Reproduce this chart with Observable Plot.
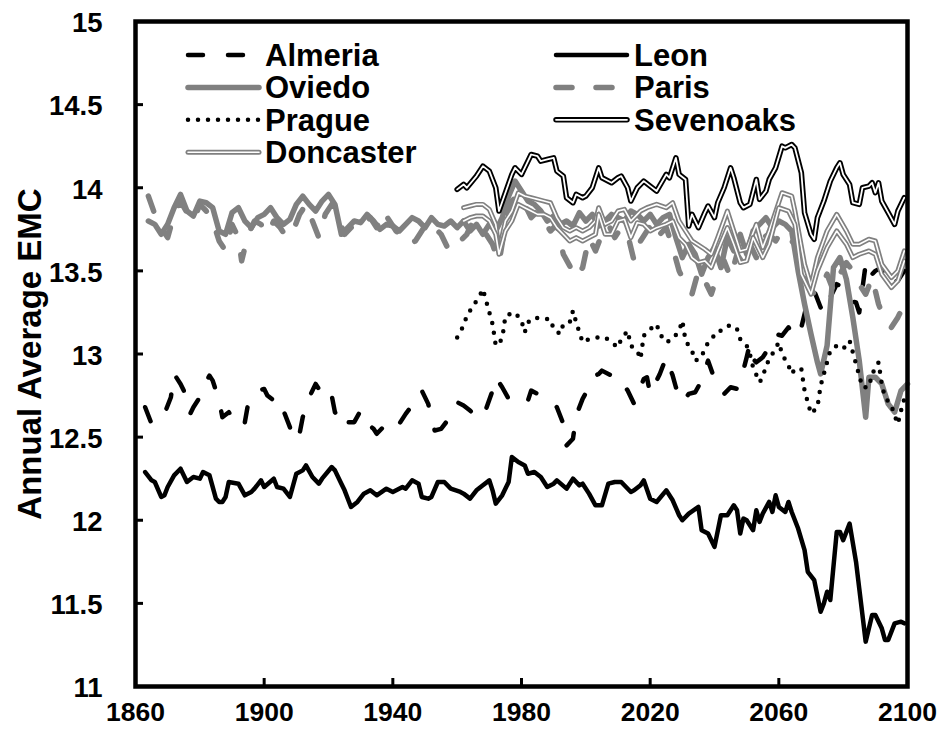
<!DOCTYPE html>
<html><head><meta charset="utf-8">
<script src="https://cdn.jsdelivr.net/npm/d3@7"></script>
<script src="https://cdn.jsdelivr.net/npm/@observablehq/plot@0.6"></script>
<style>
body{margin:0;background:#fff;}
#wrap{position:relative;width:944px;height:744px;overflow:hidden;background:#fff;}
#legend{position:absolute;left:0;top:0;pointer-events:none;}
</style></head><body><div id="wrap"></div>
<script>
// ---------- data ----------
const xTicks = [1860, 1900, 1940, 1980, 2020, 2060, 2100];
const yTicks = [11, 11.5, 12, 12.5, 13, 13.5, 14, 14.5, 15];
const yLabel = "Annual Average EMC";
const legendNames = ["Almeria", "Leon", "Oviedo", "Paris", "Prague", "Sevenoaks", "Doncaster"];

const almeriaYears = [1863,1865,1867,1869,1871,1872,1874,1875,1877,1878,1880,1881,1883,1884,1886,1887,1889,1891,1892,1894,1895,1897,1898,1900,1901,1903,1904,1906,1908,1909,1911,1912,1914,1916,1918,1919,1921,1922,1923,1924,1926,1928,1930,1932,1934,1935,1937,1939,1941,1942,1944,1946,1947,1949,1951,1953,1955,1957,1959,1960,1962,1964,1966,1967,1969,1971,1972,1974,1976,1978,1980,1982,1983,1985,1987,1989,1991,1993,1994,1996,1997,1999,2001,2002,2004,2005,2008,2010,2011,2013,2015,2016,2018,2019,2020,2021,2023,2025,2027,2028,2030,2032,2034,2036,2038,2040,2043,2045,2047,2048,2050,2051,2052,2053,2055,2057,2059,2061,2063,2065,2067,2069,2071,2073,2075,2076,2078,2080,2082,2084,2085,2087,2088,2090,2092,2093,2095,2097,2099];
const almeriaValues = [12.68,12.58,12.62,12.64,12.74,12.88,12.82,12.78,12.64,12.68,12.74,12.80,12.87,12.84,12.72,12.62,12.65,12.59,12.62,12.59,12.70,12.74,12.78,12.79,12.75,12.72,12.74,12.66,12.56,12.48,12.52,12.62,12.74,12.82,12.76,12.72,12.75,12.65,12.62,12.56,12.59,12.59,12.66,12.58,12.55,12.52,12.56,12.58,12.55,12.58,12.64,12.69,12.71,12.78,12.70,12.54,12.55,12.60,12.68,12.71,12.69,12.66,12.62,12.61,12.67,12.78,12.86,12.80,12.73,12.75,12.75,12.72,12.78,12.76,12.74,12.72,12.68,12.58,12.45,12.49,12.63,12.73,12.80,12.86,12.88,12.90,12.87,12.87,12.84,12.78,12.70,12.75,12.85,12.86,12.76,12.80,12.88,12.98,12.87,12.80,12.71,12.76,12.77,12.84,12.96,12.85,12.76,12.80,12.79,12.83,12.98,13.06,12.97,12.95,12.98,13.04,13.12,13.11,13.16,13.10,13.16,13.32,13.38,13.28,13.25,13.34,13.42,13.40,13.32,13.31,13.25,13.54,13.46,13.50,13.52,13.42,13.43,13.44,13.50];

const leonYears = [1863,1865,1866,1868,1869,1870,1872,1874,1876,1878,1880,1881,1883,1885,1886,1887,1888,1889,1892,1894,1896,1897,1899,1900,1903,1904,1906,1908,1910,1912,1913,1915,1917,1918,1921,1922,1924,1925,1927,1929,1931,1933,1935,1938,1940,1943,1944,1946,1948,1949,1951,1952,1954,1956,1958,1961,1962,1964,1966,1968,1970,1971,1972,1974,1976,1977,1979,1981,1982,1984,1986,1988,1990,1991,1994,1996,1998,1999,2001,2003,2005,2007,2009,2011,2014,2015,2017,2018,2020,2022,2025,2027,2029,2030,2032,2035,2036,2038,2040,2042,2044,2046,2047,2048,2049,2050,2052,2053,2054,2055,2057,2058,2059,2060,2062,2063,2064,2066,2068,2069,2071,2073,2074,2075,2076,2078,2079,2080,2082,2084,2085,2087,2089,2090,2092,2093,2094,2096,2098,2099];
const leonValues = [12.29,12.24,12.23,12.14,12.15,12.20,12.27,12.31,12.23,12.26,12.25,12.29,12.27,12.13,12.11,12.11,12.14,12.23,12.22,12.15,12.17,12.19,12.24,12.20,12.25,12.20,12.19,12.14,12.28,12.30,12.33,12.26,12.22,12.25,12.32,12.30,12.22,12.18,12.08,12.11,12.16,12.18,12.15,12.19,12.17,12.20,12.19,12.24,12.22,12.14,12.13,12.14,12.23,12.23,12.19,12.17,12.16,12.13,12.18,12.21,12.24,12.18,12.10,12.15,12.23,12.38,12.35,12.33,12.28,12.29,12.26,12.20,12.22,12.24,12.19,12.25,12.21,12.22,12.16,12.09,12.09,12.22,12.23,12.23,12.17,12.18,12.21,12.24,12.13,12.11,12.18,12.12,12.03,12.00,12.04,12.08,11.94,11.92,11.84,12.03,12.03,12.09,12.06,11.92,12.01,12.00,11.94,12.06,11.99,12.04,12.11,12.05,12.15,12.08,12.05,12.11,12.05,11.95,11.82,11.69,11.64,11.45,11.50,11.57,11.52,11.93,11.93,11.88,11.98,11.75,11.59,11.27,11.43,11.43,11.35,11.28,11.28,11.38,11.39,11.38];

const oviedoYears = [1864,1866,1868,1870,1872,1874,1876,1878,1880,1882,1884,1886,1888,1890,1892,1894,1896,1898,1900,1902,1904,1906,1908,1910,1912,1914,1916,1918,1920,1922,1924,1926,1928,1930,1932,1934,1936,1938,1940,1942,1944,1946,1948,1950,1952,1954,1956,1958,1960,1962,1964,1966,1968,1970,1972,1974,1976,1978,1980,1982,1984,1986,1988,1990,1992,1994,1996,1998,2000,2002,2004,2006,2008,2010,2012,2014,2016,2018,2020,2022,2024,2026,2028,2030,2032,2034,2036,2038,2040,2042,2044,2046,2048,2050,2052,2054,2056,2058,2060,2062,2064,2066,2068,2070,2072,2073,2075,2077,2079,2081,2083,2085,2087,2088,2090,2092,2094,2096,2098,2100];
const oviedoValues = [13.80,13.78,13.72,13.78,13.88,13.96,13.86,13.83,13.92,13.91,13.88,13.74,13.72,13.85,13.88,13.80,13.76,13.82,13.84,13.88,13.82,13.78,13.81,13.90,13.95,13.90,13.86,13.92,13.96,13.90,13.72,13.76,13.80,13.79,13.84,13.80,13.75,13.78,13.77,13.74,13.78,13.82,13.80,13.76,13.82,13.78,13.77,13.80,13.76,13.80,13.74,13.78,13.72,13.78,13.74,13.82,13.95,14.04,13.98,13.92,13.90,13.86,13.80,13.83,13.78,13.80,13.77,13.85,13.80,13.84,13.77,13.80,13.84,13.82,13.80,13.86,13.84,13.80,13.84,13.78,13.82,13.84,13.70,13.58,13.66,13.60,13.48,13.58,13.64,13.52,13.70,13.62,13.72,13.60,13.74,13.78,13.82,13.76,13.80,13.78,13.74,13.50,13.30,13.12,12.95,12.88,13.05,13.52,13.58,13.45,13.22,12.96,12.62,12.86,12.86,12.82,12.70,12.65,12.78,12.82];

const parisYears = [1864,1866,1868,1870,1872,1874,1876,1878,1880,1882,1884,1886,1888,1890,1892,1893,1895,1897,1899,1901,1903,1905,1907,1909,1911,1913,1915,1917,1919,1921,1923,1925,1927,1929,1931,1933,1935,1937,1939,1941,1943,1945,1947,1949,1951,1953,1955,1957,1959,1961,1963,1965,1967,1969,1971,1973,1975,1977,1979,1981,1983,1985,1987,1989,1991,1993,1995,1997,1999,2001,2003,2005,2007,2009,2011,2013,2015,2017,2019,2021,2023,2025,2027,2029,2031,2033,2035,2037,2039,2041,2043,2045,2047,2049,2051,2053,2055,2057,2059,2061,2063,2065,2067,2069,2071,2073,2075,2077,2079,2081,2083,2085,2087,2089,2091,2093,2095,2097,2099];
const parisValues = [13.95,13.84,13.76,13.70,13.84,13.92,13.85,13.80,13.90,13.86,13.80,13.68,13.62,13.78,13.70,13.56,13.72,13.80,13.78,13.72,13.80,13.76,13.70,13.74,13.84,13.90,13.80,13.70,13.84,13.90,13.82,13.72,13.76,13.80,13.78,13.82,13.76,13.86,13.80,13.74,13.70,13.66,13.68,13.74,13.80,13.76,13.72,13.64,13.62,13.68,13.72,13.80,13.76,13.72,13.66,13.55,13.78,13.92,13.96,13.90,13.82,13.86,13.80,13.74,13.78,13.60,13.53,13.46,13.52,13.70,13.62,13.72,13.78,13.70,13.76,13.72,13.56,13.68,13.74,13.80,13.72,13.76,13.64,13.50,13.42,13.36,13.50,13.44,13.36,13.48,13.56,13.46,13.60,13.54,13.66,13.58,13.70,13.72,13.68,13.74,13.70,13.66,13.58,13.42,13.36,13.40,13.48,13.38,13.48,13.55,13.50,13.42,13.36,13.46,13.30,13.20,13.16,13.22,13.30];

const pragueYears = [1960,1962,1963,1965,1967,1968,1969,1970,1971,1972,1974,1975,1978,1980,1981,1982,1984,1987,1989,1990,1992,1993,1995,1996,1997,1998,1999,2001,2004,2006,2008,2010,2011,2013,2014,2016,2017,2018,2020,2022,2023,2025,2027,2029,2030,2031,2033,2034,2036,2037,2039,2041,2042,2044,2046,2047,2048,2050,2051,2052,2054,2055,2056,2058,2060,2061,2063,2064,2065,2067,2068,2069,2070,2072,2073,2075,2076,2078,2080,2082,2083,2084,2086,2088,2089,2091,2092,2093,2095,2096,2097,2098,2099];
const pragueValues = [13.10,13.17,13.23,13.29,13.35,13.39,13.32,13.25,13.18,13.05,13.09,13.23,13.25,13.20,13.13,13.19,13.22,13.21,13.21,13.15,13.12,13.18,13.19,13.26,13.19,13.13,13.07,13.09,13.10,13.10,13.07,13.04,13.09,13.14,13.05,13.02,12.97,13.11,13.15,13.18,13.12,13.07,13.09,13.14,13.20,13.08,13.02,12.96,12.98,13.04,13.09,13.14,13.14,13.17,13.17,13.15,13.09,13.05,13.00,12.92,12.83,12.86,12.93,13.00,13.07,13.00,12.93,12.88,12.91,12.91,12.78,12.71,12.64,12.68,12.81,12.95,13.02,13.05,13.03,13.08,13.01,12.94,12.80,12.80,12.88,12.95,12.82,12.74,12.69,12.63,12.58,12.66,12.73];

const sevenoaksYears = [1960,1962,1963,1966,1968,1970,1972,1973,1975,1977,1978,1980,1981,1983,1985,1986,1988,1990,1991,1993,1994,1996,1997,1999,2000,2002,2004,2005,2008,2010,2011,2013,2014,2016,2018,2020,2022,2025,2026,2028,2029,2031,2032,2033,2035,2037,2038,2040,2041,2043,2045,2046,2048,2049,2051,2053,2054,2056,2057,2059,2061,2062,2064,2065,2067,2068,2070,2071,2072,2074,2076,2078,2079,2080,2082,2083,2085,2086,2088,2089,2090,2091,2092,2094,2096,2097,2099];
const sevenoaksValues = [13.99,14.02,14.00,14.07,14.13,14.10,14.00,13.86,13.97,14.08,14.12,14.08,14.12,14.20,14.19,14.16,14.17,14.18,14.10,14.07,13.94,13.91,13.96,13.94,13.95,14.00,14.12,14.06,14.03,14.06,14.07,14.00,13.92,14.00,14.04,14.01,13.98,14.08,14.06,14.18,14.08,14.05,13.77,13.84,13.76,13.85,13.89,13.82,13.91,14.00,14.12,14.06,13.91,13.88,13.90,14.05,13.93,13.98,14.05,14.12,14.25,14.24,14.26,14.24,14.09,13.85,13.72,13.69,13.82,13.92,14.04,14.12,14.15,14.08,14.02,13.91,13.90,14.00,14.01,14.03,13.97,14.03,13.92,13.85,13.78,13.86,13.94];

const doncasterYears = [1962,1964,1966,1968,1970,1972,1973,1975,1977,1979,1981,1983,1985,1987,1989,1991,1993,1995,1997,1999,2001,2003,2004,2006,2008,2010,2012,2014,2016,2017,2019,2022,2025,2027,2029,2030,2033,2037,2039,2041,2044,2046,2048,2050,2053,2055,2057,2061,2064,2065,2068,2070,2072,2075,2078,2081,2083,2085,2088,2090,2092,2095,2097,2099];
const doncasterValues = [13.88,13.89,13.90,13.90,13.87,13.78,13.62,13.80,13.86,13.97,13.95,13.94,13.93,13.92,13.91,13.82,13.76,13.74,13.76,13.74,13.76,13.80,13.88,13.78,13.80,13.86,13.87,13.80,13.84,13.86,13.88,13.90,13.88,13.91,13.80,13.77,13.68,13.63,13.60,13.70,13.86,13.74,13.62,13.63,13.78,13.64,13.74,13.97,13.95,13.86,13.54,13.41,13.58,13.74,13.84,13.74,13.66,13.66,13.69,13.68,13.54,13.46,13.50,13.62];

// second light double line visible in the picture (no legend entry)
const extraYears = [1962,1964,1966,1968,1970,1972,1973,1975,1977,1979,1981,1983,1985,1987,1989,1991,1993,1995,1997,1999,2001,2003,2004,2006,2008,2010,2012,2014,2016,2018,2020,2022,2025,2027,2029,2031,2033,2035,2037,2039,2041,2044,2046,2048,2050,2052,2055,2057,2060,2063,2065,2067,2070,2072,2075,2078,2081,2083,2085,2088,2090,2092,2095,2097,2099];
const extraValues = [13.80,13.82,13.83,13.83,13.80,13.72,13.60,13.74,13.80,13.90,13.88,13.86,13.84,13.84,13.82,13.76,13.72,13.68,13.70,13.68,13.70,13.72,13.84,13.72,13.72,13.80,13.81,13.70,13.79,13.78,13.74,13.76,13.78,13.80,13.70,13.66,13.58,13.55,13.56,13.52,13.62,13.76,13.66,13.55,13.56,13.70,13.58,13.66,13.88,13.86,13.78,13.48,13.36,13.50,13.64,13.74,13.66,13.58,13.60,13.62,13.60,13.48,13.40,13.44,13.56];

// ---------- build ----------
const GRAY = "#808080";
const FONT = "'Liberation Sans', Arial, Helvetica, sans-serif";
const X0 = 1860, X1 = 2100, Y0 = 11, Y1 = 15;
const mL = 135, mR = 37, mT = 21, mB = 58, W = 944, H = 744;
const tickPx = 8;
const tickLenX = tickPx * (X1 - X0) / (W - mL - mR);
const tickLenY = tickPx * (Y1 - Y0) / (H - mT - mB);
const tbl = (ys, vs) => ys.map((y, i) => ({year: y, value: vs[i]}));

const almeria = tbl(almeriaYears, almeriaValues);
const leon = tbl(leonYears, leonValues);
const oviedo = tbl(oviedoYears, oviedoValues);
const paris = tbl(parisYears, parisValues);
const prague = tbl(pragueYears, pragueValues);
const sevenoaks = tbl(sevenoaksYears, sevenoaksValues);
const doncaster = tbl(doncasterYears, doncasterValues);
const extra = tbl(extraYears, extraValues);

const styles = {
  Almeria:   [{stroke: "black", strokeWidth: 4.5, strokeDasharray: "15,25", strokeLinecap: "round"}],
  Leon:      [{stroke: "black", strokeWidth: 4.5}],
  Oviedo:    [{stroke: GRAY, strokeWidth: 5.5}],
  Paris:     [{stroke: GRAY, strokeWidth: 5.5, strokeDasharray: "16,24", strokeLinecap: "round"}],
  Prague:    [{stroke: "black", strokeWidth: 4.5, strokeDasharray: "0,10", strokeLinecap: "round"}],
  Sevenoaks: [{stroke: "black", strokeWidth: 5.5}, {stroke: "white", strokeWidth: 1.8}],
  Doncaster: [{stroke: GRAY, strokeWidth: 5}, {stroke: "white", strokeWidth: 1.6}]
};
const seriesData = {Almeria: almeria, Leon: leon, Oviedo: oviedo, Paris: paris, Prague: prague, Sevenoaks: sevenoaks, Doncaster: doncaster};

const lineMarks = [];
for (const name of ["Almeria", "Leon", "Oviedo", "Paris", "Prague", "Sevenoaks", "Doncaster"]) {
  for (const st of styles[name]) {
    lineMarks.push(Plot.line(seriesData[name], {x: "year", y: "value", strokeLinejoin: "round", ...st}));
  }
  if (name === "Doncaster") {
    for (const st of styles.Doncaster) lineMarks.push(Plot.line(extra, {x: "year", y: "value", strokeLinejoin: "round", ...st}));
  }
}

const chart = Plot.plot({
  width: W, height: H,
  marginLeft: mL, marginRight: mR, marginTop: mT, marginBottom: mB,
  x: {domain: [X0, X1], label: null, axis: null},
  y: {domain: [Y0, Y1], label: null, axis: null},
  style: {fontFamily: FONT, fontWeight: "bold", color: "black", background: "white"},
  marks: [
    ...lineMarks,
    // inward tick marks
    Plot.ruleY(yTicks, {y: d => d, x1: X0, x2: X0 + tickLenX, stroke: "black", strokeWidth: 3}),
    Plot.ruleX(xTicks, {x: d => d, y1: Y0, y2: Y0 + tickLenY, stroke: "black", strokeWidth: 3}),
    Plot.frame({stroke: "black", strokeWidth: 4.5}),
    // tick labels
    Plot.text(yTicks, {y: d => d, text: d => String(d), frameAnchor: "left", textAnchor: "end", dx: -33, dy: 2, fontSize: 27.5, fontWeight: "bold", fill: "black"}),
    Plot.text(xTicks, {x: d => d, text: d => String(d), frameAnchor: "bottom", textAnchor: "middle", lineAnchor: "top", dy: 16, fontSize: 26.5, fontWeight: "bold", fill: "black"}),
    // axis title
    Plot.text([yLabel], {text: d => d, frameAnchor: "left", textAnchor: "middle", rotate: -90, dx: -105, fontSize: 33, fontWeight: "bold", fill: "black"})
  ]
});

const wrap = document.getElementById("wrap");
wrap.appendChild(chart);

// ---------- legend (inside the plot area) ----------
const legendCols = [{sx1: 188, sx2: 259, tx: 265}, {sx1: 556, sx2: 627, tx: 634}];
const legendRow0 = 55, legendRowStep = 32.4;
const lg = d3.create("svg").attr("id", "legend").attr("width", 944).attr("height", 744);
legendNames.forEach((name, i) => {
  const c = legendCols[i % 2];
  const cy = legendRow0 + Math.floor(i / 2) * legendRowStep;
  for (const st of styles[name]) {
    lg.append("line")
      .attr("x1", c.sx1).attr("x2", c.sx2).attr("y1", cy).attr("y2", cy)
      .attr("stroke", st.stroke).attr("stroke-width", st.strokeWidth)
      .attr("stroke-dasharray", st.strokeDasharray || null)
      .attr("stroke-linecap", st.strokeLinecap || "round");
  }
  lg.append("text").attr("x", c.tx).attr("y", cy + 11)
    .attr("font-family", FONT).attr("font-weight", "bold").attr("font-size", 31)
    .attr("fill", "black").text(name);
});
wrap.appendChild(lg.node());
</script>
</body></html>
